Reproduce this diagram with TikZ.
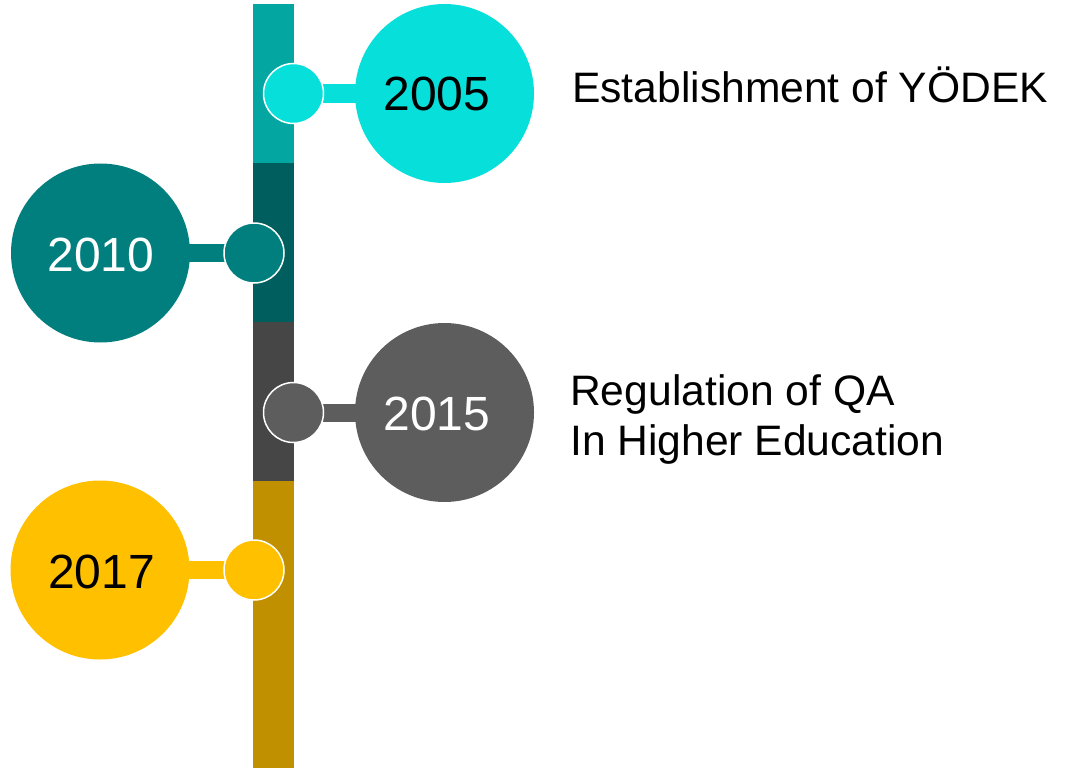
\documentclass[tikz,border=0pt]{standalone}
\usepackage{fontspec}
\setmainfont{Liberation Sans}
\usetikzlibrary{backgrounds}
\definecolor{barA}{HTML}{04A6A1}
\definecolor{dotA}{HTML}{07E0DA}
\definecolor{barB}{HTML}{005F5E}
\definecolor{dotB}{HTML}{007F7E}
\definecolor{barC}{HTML}{464646}
\definecolor{dotC}{HTML}{5D5D5D}
\definecolor{barD}{HTML}{C09000}
\definecolor{dotD}{HTML}{FFC000}
\tikzset{
  bigdot/.style={circle, minimum size=179bp, inner sep=0pt, fill=#1},
  smalldot/.style={circle, minimum size=60bp, inner sep=0pt, fill=#1, draw=white, line width=1.5bp},
  yeartext/.style={inner sep=0pt, font=\fontsize{48bp}{58bp}\selectfont, text=#1},
  eventtext/.style={inner sep=0pt, anchor=base west, font=\fontsize{42.6bp}{50bp}\selectfont, align=left},
  link/.style={line width=18bp, draw=#1},
  barseg/.style={fill=#1, draw=none}
}
\begin{document}
\begin{tikzpicture}[x=1bp, y=-1bp]
\useasboundingbox (0,0) rectangle (1069,768);
% bar
\fill[barA] (253,4) rectangle (294,163);
\fill[barB] (253,163) rectangle (294,322);
\fill[barC] (253,322) rectangle (294,481);
\fill[barD] (253,481) rectangle (294,768);
% circles
\node[bigdot=dotA] (c2005) at (444.5,93.5) {};
\node[smalldot=dotA] (s2005) at (293.5,93.5) {};
\node[bigdot=dotB] (c2010) at (100.5,253) {};
\node[smalldot=dotB] (s2010) at (254,253) {};
\node[bigdot=dotC] (c2015) at (444.5,412.5) {};
\node[smalldot=dotC] (s2015) at (293.5,412.5) {};
\node[bigdot=dotD] (c2017) at (100,570) {};
\node[smalldot=dotD] (s2017) at (254,570) {};
\begin{pgfonlayer}{background}
\draw[link=dotA] (s2005.center) -- (c2005.center);
\draw[link=dotB] (s2010.center) -- (c2010.center);
\draw[link=dotC] (s2015.center) -- (c2015.center);
\draw[link=dotD] (s2017.center) -- (c2017.center);
\end{pgfonlayer}
% year labels
\node[yeartext=black] (t2005) at (437,93.5) {2005};
\node[yeartext=white] (t2010) at (101,254.5) {2010};
\node[yeartext=white] (t2015) at (437,414) {2015};
\node[yeartext=black] (t2017) at (101.5,571.5) {2017};
% events
\node[eventtext] (e2005) at (572,102.5) {Establishment of YÖDEK};
\node[eventtext] (e2015) at (570,455) {Regulation of QA\\In Higher Education};
\end{tikzpicture}
\end{document}
